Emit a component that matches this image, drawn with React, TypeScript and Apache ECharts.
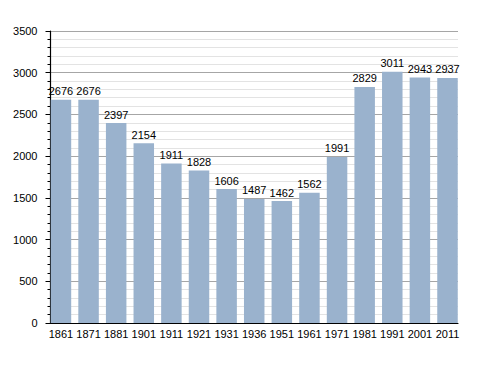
import React, { useEffect, useRef } from "react";
import * as echarts from "echarts";

const categories = ["1861", "1871", "1881", "1901", "1911", "1921", "1931", "1936", "1951", "1961", "1971", "1981", "1991", "2001", "2011"];
const populations = [2676, 2676, 2397, 2154, 1911, 1828, 1606, 1487, 1462, 1562, 1991, 2829, 3011, 2943, 2937];
const yMin = 0;
const yMax = 3500;
const yInterval = 500;

const FONT = "'Liberation Sans', Arial, Helvetica, sans-serif";

export default function App() {
  const ref = useRef<HTMLDivElement>(null);
  useEffect(() => {
    if (!ref.current) return;
    const chart = echarts.init(ref.current, undefined, { renderer: "svg" });
    chart.setOption({
      animation: false,
      backgroundColor: "#ffffff",
      textStyle: { fontFamily: FONT },
      grid: [
        { left: 50.5, right: 30, top: 31, bottom: 50, containLabel: false },
        { left: 60.95, right: 40.5, top: 31, bottom: 50, containLabel: false },
      ],
      xAxis: [
        {
          gridIndex: 0,
          type: "value",
          min: 0,
          max: 1,
          axisLine: { show: true, lineStyle: { color: "#000000", width: 1.2 } },
          axisTick: { show: false },
          axisLabel: { show: false },
          splitLine: { show: false },
        },
        {
          gridIndex: 1,
          type: "category",
          data: categories,
          boundaryGap: false,
          axisLine: { show: false },
          axisTick: { show: false },
          splitLine: { show: false },
          axisLabel: { interval: 0, color: "#000000", fontSize: 11, margin: 5, fontFamily: FONT },
        },
      ],
      yAxis: [
        {
          gridIndex: 0,
          type: "value",
          min: yMin,
          max: yMax,
          interval: yInterval,
          axisLine: { show: true, lineStyle: { color: "#000000", width: 1.2 } },
          axisTick: { show: true, length: 5, lineStyle: { color: "#000000" } },
          minorTick: { show: true, splitNumber: 5, length: 3, lineStyle: { color: "#000000" } },
          axisLabel: {
            color: "#000000",
            fontSize: 11,
            margin: 13,
            fontFamily: FONT,
            formatter: (v: number) => String(v),
          },
          splitLine: { show: true, lineStyle: { color: "#a6a6a6", width: 1 } },
          minorSplitLine: { show: true, lineStyle: { color: "#e3e3e3", width: 1 } },
        },
        {
          gridIndex: 1,
          type: "value",
          min: yMin,
          max: yMax,
          show: false,
          splitLine: { show: false },
        },
      ],
      series: [
        {
          type: "bar",
          xAxisIndex: 1,
          yAxisIndex: 1,
          data: populations,
          barWidth: 20.5,
          itemStyle: { color: "#9ab2cd" },
          label: {
            show: true,
            position: "top",
            distance: 3,
            color: "#000000",
            fontSize: 11,
            fontFamily: FONT,
          },
        },
      ],
    });
    return () => chart.dispose();
  }, []);
  return (
    <div
      ref={ref}
      style={{ position: "fixed", left: 0, top: 0, width: 488, height: 373 }}
    />
  );
}
